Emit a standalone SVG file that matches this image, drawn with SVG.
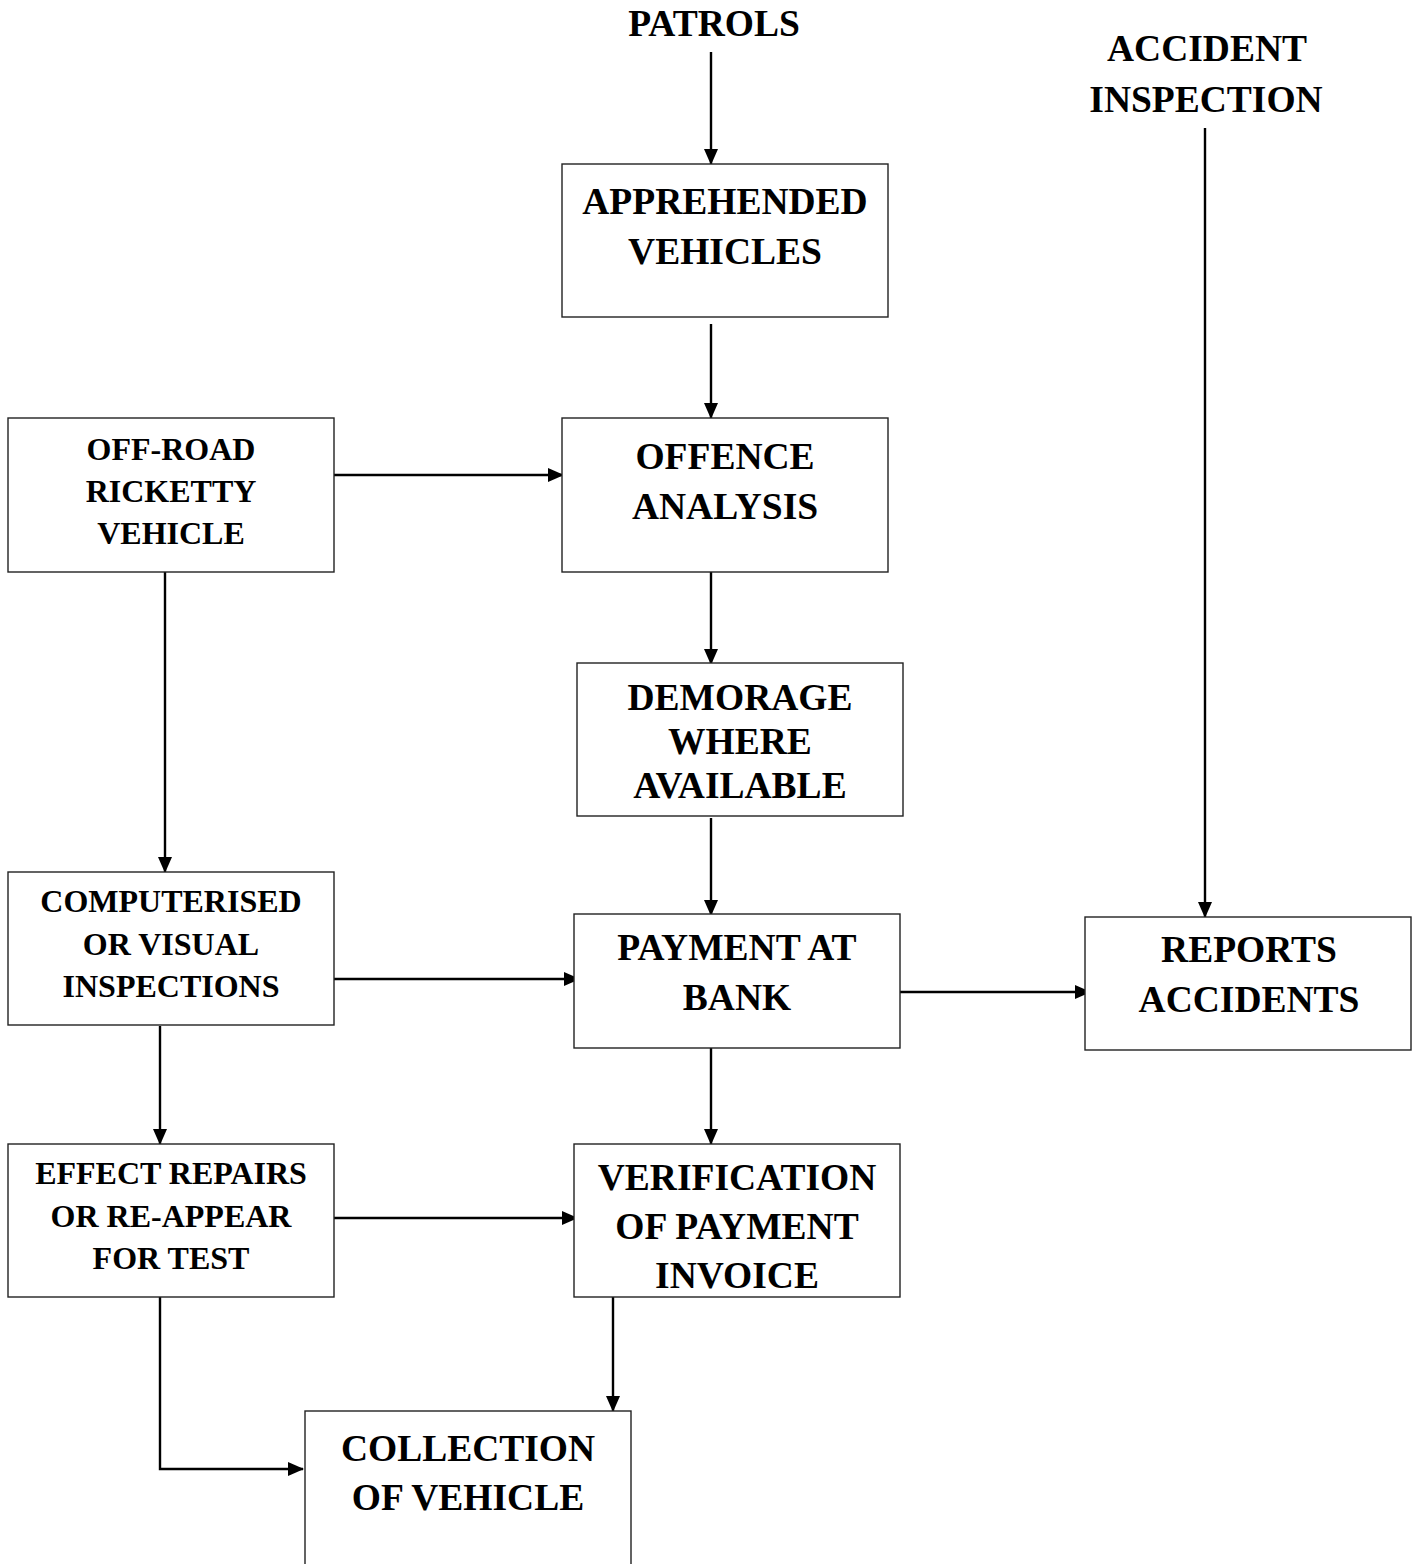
<svg xmlns="http://www.w3.org/2000/svg" width="1421" height="1564" viewBox="0 0 1421 1564">
<style>
.box{fill:#fff;stroke:#222;stroke-width:1.4}
.t{font-family:"Liberation Serif","Times New Roman",serif;font-weight:bold;fill:#000;text-anchor:middle}
.big{font-size:37.5px}
.sm{font-size:32px}
.c{fill:none;stroke:#000;stroke-width:2.4}
</style>
<defs>
<marker id="ah" markerWidth="16" markerHeight="14" refX="15" refY="7" orient="auto" markerUnits="userSpaceOnUse">
<path d="M0,0 L16,7 L0,14 Z" fill="#000"/>
</marker>
</defs>
<rect width="1421" height="1564" fill="#fff"/>
<g id="connectors">
<line class="c" x1="711" y1="52" x2="711" y2="164" marker-end="url(#ah)"/>
<line class="c" x1="711" y1="324" x2="711" y2="418" marker-end="url(#ah)"/>
<line class="c" x1="334" y1="475" x2="563" y2="475" marker-end="url(#ah)"/>
<line class="c" x1="165" y1="572" x2="165" y2="872" marker-end="url(#ah)"/>
<line class="c" x1="711" y1="572" x2="711" y2="664" marker-end="url(#ah)"/>
<line class="c" x1="711" y1="818" x2="711" y2="915" marker-end="url(#ah)"/>
<line class="c" x1="331" y1="979" x2="579" y2="979" marker-end="url(#ah)"/>
<line class="c" x1="900" y1="992" x2="1090" y2="992" marker-end="url(#ah)"/>
<line class="c" x1="1205" y1="128" x2="1205" y2="917" marker-end="url(#ah)"/>
<line class="c" x1="160" y1="1026" x2="160" y2="1144" marker-end="url(#ah)"/>
<line class="c" x1="328" y1="1218" x2="577" y2="1218" marker-end="url(#ah)"/>
<line class="c" x1="711" y1="1048" x2="711" y2="1144" marker-end="url(#ah)"/>
<line class="c" x1="613" y1="1297" x2="613" y2="1411" marker-end="url(#ah)"/>
<polyline class="c" points="160,1297 160,1469 303,1469" marker-end="url(#ah)"/>
</g>
<g id="patrols">
<text class="t big" x="714" y="36">PATROLS</text>
</g>
<g id="accident-inspection">
<text class="t big" x="1207" y="61">ACCIDENT</text>
<text class="t big" x="1206" y="112">INSPECTION</text>
</g>
<g id="apprehended">
<rect class="box" x="562" y="164" width="326" height="153"/>
<text class="t big" x="725" y="214">APPREHENDED</text>
<text class="t big" x="725" y="264">VEHICLES</text>
</g>
<g id="offence">
<rect class="box" x="562" y="418" width="326" height="154"/>
<text class="t big" x="725" y="469">OFFENCE</text>
<text class="t big" x="725" y="519">ANALYSIS</text>
</g>
<g id="offroad">
<rect class="box" x="8" y="418" width="326" height="154"/>
<text class="t sm" x="171" y="460">OFF-ROAD</text>
<text class="t sm" x="171" y="502">RICKETTY</text>
<text class="t sm" x="171" y="544">VEHICLE</text>
</g>
<g id="demorage">
<rect class="box" x="577" y="663" width="326" height="153"/>
<text class="t big" x="740" y="710">DEMORAGE</text>
<text class="t big" x="740" y="754">WHERE</text>
<text class="t big" x="740" y="798">AVAILABLE</text>
</g>
<g id="computerised">
<rect class="box" x="8" y="872" width="326" height="153"/>
<text class="t sm" x="171" y="912">COMPUTERISED</text>
<text class="t sm" x="171" y="955">OR VISUAL</text>
<text class="t sm" x="171" y="997">INSPECTIONS</text>
</g>
<g id="payment">
<rect class="box" x="574" y="914" width="326" height="134"/>
<text class="t big" x="737" y="960">PAYMENT AT</text>
<text class="t big" x="737" y="1010">BANK</text>
</g>
<g id="reports">
<rect class="box" x="1085" y="917" width="326" height="133"/>
<text class="t big" x="1249" y="962">REPORTS</text>
<text class="t big" x="1249" y="1012">ACCIDENTS</text>
</g>
<g id="effect">
<rect class="box" x="8" y="1144" width="326" height="153"/>
<text class="t sm" x="171" y="1184">EFFECT REPAIRS</text>
<text class="t sm" x="171" y="1227">OR RE-APPEAR</text>
<text class="t sm" x="171" y="1269">FOR TEST</text>
</g>
<g id="verification">
<rect class="box" x="574" y="1144" width="326" height="153"/>
<text class="t big" x="737" y="1190">VERIFICATION</text>
<text class="t big" x="737" y="1239">OF PAYMENT</text>
<text class="t big" x="737" y="1288">INVOICE</text>
</g>
<g id="collection">
<rect class="box" x="305" y="1411" width="326" height="160"/>
<text class="t big" x="468" y="1461">COLLECTION</text>
<text class="t big" x="468" y="1510">OF VEHICLE</text>
</g>
</svg>
